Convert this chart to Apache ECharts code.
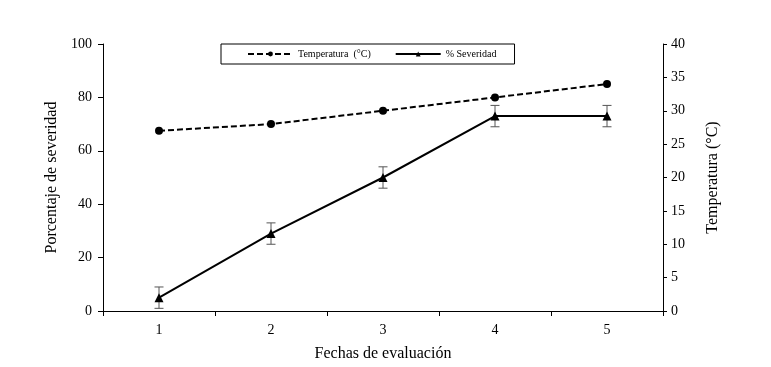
<!DOCTYPE html>
<html><head><meta charset="utf-8">
<script src="https://cdn.jsdelivr.net/npm/echarts@6/dist/echarts.min.js"></script>
<style>html,body{margin:0;padding:0;background:#fff}#c{width:771px;height:367px}</style>
</head><body><div id="c"></div>
<script>
var categories = ['1','2','3','4','5'];
var severidad = [5, 29, 50, 73, 73];
var severidadErr = [4, 4, 4, 4, 4];
var temperatura = [27, 28, 30, 32, 34];
var leftTicks = [0, 20, 40, 60, 80, 100];
var rightTicks = [0, 5, 10, 15, 20, 25, 30, 35, 40];

var errData = severidad.map(function(v, i){ return [i, v - severidadErr[i], v + severidadErr[i]]; });
var F = 'Liberation Serif, Times New Roman, serif';
var chart = echarts.init(document.getElementById('c'));
chart.setOption({
  animation: false,
  backgroundColor: '#fff',
  grid: {left: 103, right: 108, top: 44, bottom: 54},
  legend: {
    top: 44, left: 221,
    itemGap: 24,
    padding: [5, 18, 5, 26],
    borderColor: '#000', borderWidth: 1, borderRadius: 0,
    itemWidth: 45, itemHeight: 6,
    textStyle: {fontFamily: F, fontSize: 10, color: '#000'},
    data: ['Temperatura  (°C)', '% Severidad']
  },
  xAxis: {
    type: 'category', data: categories, boundaryGap: true,
    name: 'Fechas de evaluación', nameLocation: 'middle', nameGap: 35,
    nameTextStyle: {fontFamily: F, fontSize: 16, color: '#000'},
    axisLine: {lineStyle: {color: '#000', width: 1}},
    axisTick: {show: true, inside: false, length: 5, lineStyle: {color: '#000'}},
    axisLabel: {fontFamily: F, fontSize: 14, color: '#000', margin: 12},
    splitLine: {show: false}
  },
  yAxis: [{
    type: 'value', min: 0, max: 100, interval: 20, position: 'left',
    name: 'Porcentaje de severidad', nameLocation: 'middle', nameGap: 40,
    nameTextStyle: {fontFamily: F, fontSize: 16, color: '#000'},
    axisLine: {show: true, lineStyle: {color: '#000', width: 1}},
    axisTick: {show: true, length: 5, lineStyle: {color: '#000'}},
    axisLabel: {fontFamily: F, fontSize: 14, color: '#000', margin: 11},
    splitLine: {show: false}
  }, {
    type: 'value', min: 0, max: 40, interval: 5, position: 'right',
    name: 'Temperatura (°C)', nameLocation: 'middle', nameGap: 42,
    nameTextStyle: {fontFamily: F, fontSize: 16, color: '#000'},
    axisLine: {show: true, lineStyle: {color: '#000', width: 1}},
    axisTick: {show: true, length: 4, lineStyle: {color: '#000'}},
    axisLabel: {fontFamily: F, fontSize: 14, color: '#000', margin: 8},
    splitLine: {show: false}
  }],
  series: [{
    name: 'Temperatura  (°C)', type: 'line', yAxisIndex: 1, data: temperatura,
    symbol: 'circle', symbolSize: 8,
    lineStyle: {color: '#000', width: 2, type: [6, 3]},
    itemStyle: {color: '#000'}
  }, {
    name: 'err', type: 'custom', yAxisIndex: 0, data: errData, z: 1,
    renderItem: function(params, api){
      var x = api.value(0);
      var lo = api.coord([x, api.value(1)]);
      var hi = api.coord([x, api.value(2)]);
      var w = 9;
      var st = {stroke: '#555', lineWidth: 1};
      return {type: 'group', children: [
        {type: 'line', shape: {x1: lo[0], y1: lo[1], x2: hi[0], y2: hi[1]}, style: st},
        {type: 'line', shape: {x1: lo[0]-w/2, y1: lo[1], x2: lo[0]+w/2, y2: lo[1]}, style: st},
        {type: 'line', shape: {x1: hi[0]-w/2, y1: hi[1], x2: hi[0]+w/2, y2: hi[1]}, style: st}
      ]};
    }
  }, {
    name: '% Severidad', type: 'line', yAxisIndex: 0, data: severidad,
    symbol: 'triangle', symbolSize: 9, z: 3,
    lineStyle: {color: '#000', width: 2},
    itemStyle: {color: '#000'}
  }]
});
</script></body></html>
